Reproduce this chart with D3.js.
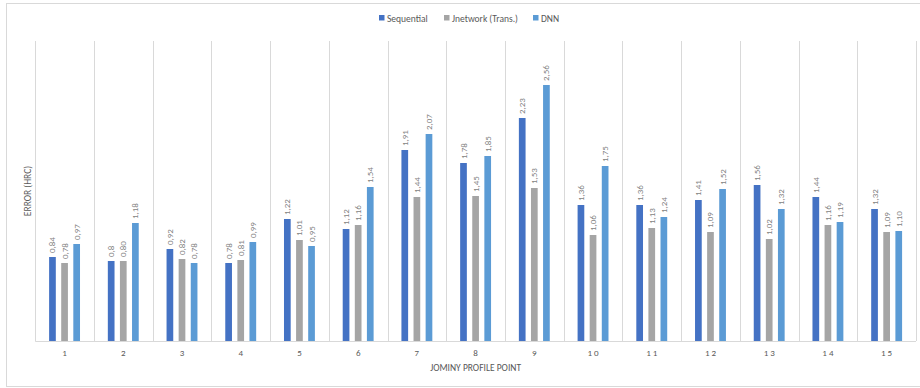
<!DOCTYPE html>
<html><head><meta charset="utf-8">
<script src="https://cdn.jsdelivr.net/npm/d3@7"></script>
<style>body{margin:0;background:#fff}svg{display:block;font-family:Calibri,Carlito,"Open Sans",sans-serif}</style>
</head><body><svg id="c" width="920" height="388"></svg>
<script>
const categories = ["1","2","3","4","5","6","7","8","9","10","11","12","13","14","15"];
const seriesNames = ["Sequential","Jnetwork (Trans.)","DNN"];
const sequential = [0.84,0.8,0.92,0.78,1.22,1.12,1.91,1.78,2.23,1.36,1.36,1.41,1.56,1.44,1.32];
const jnetwork = [0.78,0.80,0.82,0.81,1.01,1.16,1.44,1.45,1.53,1.06,1.13,1.09,1.02,1.16,1.09];
const dnn = [0.97,1.18,0.78,0.99,0.95,1.54,2.07,1.85,2.56,1.75,1.24,1.52,1.32,1.19,1.10];
const seqLabels = ["0,84","0,8","0,92","0,78","1,22","1,12","1,91","1,78","2,23","1,36","1,36","1,41","1,56","1,44","1,32"];
const colors = ["#4472C4","#A5A5A5","#5B9BD5"];

const series = [sequential, jnetwork, dnn];
const fmt = v => v.toFixed(2).replace(".", ",");
const svg = d3.select("#c");
const L = 35.2, R = 916, T = 41, B = 341;

svg.append("rect").attr("x",6.5).attr("y",3.5).attr("width",920).attr("height",383)
  .attr("fill","#fff").attr("stroke","#D9D9D9").attr("stroke-width",1);

const x = d3.scaleBand().domain(categories).range([L, R]);
const y = d3.scaleLinear().domain([0, 3]).range([B, T]);
const bw = 6.7, step = 12.1;
const xs = d3.scaleBand().domain(d3.range(3)).range([-step*1.5, step*1.5]);

// gridlines (category separators)
const bounds = d3.range(categories.length + 1).map(i => L + i * x.bandwidth());
svg.append("g").selectAll("line").data(bounds).join("line")
  .attr("x1", d => Math.round(d)+0.5).attr("x2", d => Math.round(d)+0.5)
  .attr("y1", T).attr("y2", B).attr("stroke", "#D9D9D9").attr("stroke-width", 1);

// axis line
svg.append("line").attr("x1", L).attr("x2", R).attr("y1", B+0.5).attr("y2", B+0.5)
  .attr("stroke", "#D9D9D9").attr("stroke-width", 1);

series.forEach((vals, si) => {
  const g = svg.append("g");
  const cx = (c) => x(c) + x.bandwidth()/2 + xs(si) + xs.bandwidth()/2;
  g.selectAll("rect").data(vals).join("rect")
    .attr("x", (d, i) => cx(categories[i]) - bw/2)
    .attr("y", d => y(d)).attr("width", bw).attr("height", d => B - y(d))
    .attr("fill", colors[si]);
  g.selectAll("text").data(vals).join("text")
    .attr("transform", (d, i) => `translate(${cx(categories[i]) + 3},${y(d) - 4}) rotate(-90)`)
    .attr("font-size", 9).attr("fill", "#7F7F7F").attr("text-anchor", "start")
    .text((d, i) => si === 0 ? seqLabels[i] : fmt(d));
});

// x axis labels
svg.append("g").selectAll("text").data(categories).join("text")
  .attr("x", d => x(d) + x.bandwidth()/2 + (d.length > 1 ? 1 : 0)).attr("y", 356)
  .attr("text-anchor", "middle").attr("font-size", 9).attr("fill", "#595959")
  .attr("letter-spacing", d => d.length > 1 ? "2px" : "0px")
  .text(d => d);

svg.append("text").attr("x", (L+R)/2).attr("y", 371).attr("text-anchor", "middle")
  .attr("font-size", 9.5).attr("fill", "#595959").text("JOMINY PROFILE POINT");

svg.append("text").attr("transform", `translate(31,${(T+B)/2}) rotate(-90)`)
  .attr("text-anchor", "middle").attr("font-size", 9.5).attr("fill", "#595959").text("ERROR (HRC)");

// legend
const leg = svg.append("g").attr("transform", "translate(0,19)");
const items = [{x:379, t:seriesNames[0]}, {x:444, t:seriesNames[1]}, {x:533, t:seriesNames[2]}];
items.forEach((it, i) => {
  leg.append("rect").attr("x", it.x).attr("y", -4).attr("width", 5.5).attr("height", 5.5).attr("fill", colors[i]);
  leg.append("text").attr("x", it.x + 8).attr("y", 3).attr("font-size", 9.5).attr("fill", "#595959").text(it.t);
});
</script></body></html>
